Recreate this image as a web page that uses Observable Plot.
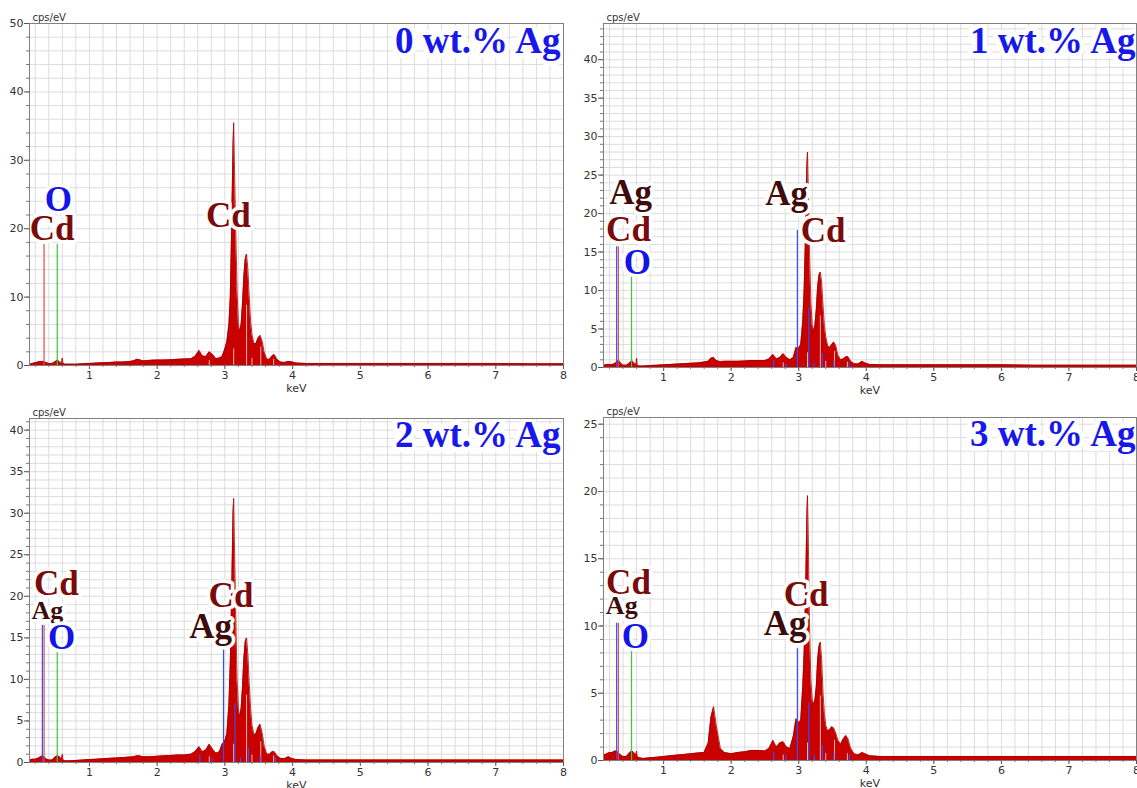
<!DOCTYPE html>
<html><head><meta charset="utf-8">
<script src="https://cdn.jsdelivr.net/npm/d3@7"></script>
<script src="https://cdn.jsdelivr.net/npm/@observablehq/plot@0.6"></script>
<style>
body{margin:0;background:#fff;}
#wrap{position:relative;width:1137px;height:788px;overflow:hidden;background:#fff;}
.panel{position:absolute;}
</style></head><body><div id="wrap"></div>
<script>
// ---------- data ----------
const energy = [0.12,0.16,0.2,0.24,0.28,0.31,0.34,0.37,0.4,0.45,0.5,0.53,0.56,0.59,0.6,0.61,0.64,0.7,0.8,0.9,
  1.0,1.1,1.2,1.3,1.4,1.5,1.6,1.66,1.7,1.74,1.78,1.84,1.9,2.0,2.1,2.2,2.3,2.4,2.5,2.56,
  2.62,2.67,2.72,2.77,2.82,2.87,2.92,2.96,3.0,3.03,3.06,3.08,3.1,3.12,3.13,3.14,3.16,3.18,3.2,3.22,
  3.24,3.26,3.28,3.3,3.32,3.34,3.36,3.38,3.4,3.43,3.46,3.49,3.52,3.55,3.58,3.62,3.66,3.7,3.73,3.77,
  3.82,3.88,3.94,3.98,4.05,4.2,4.4,4.6,4.8,5.0,5.5,6.0,6.5,7.0,7.5,8.0];

const counts0 = [0.2,0.3,0.4,0.5,0.6,0.6,0.5,0.4,0.3,0.3,0.6,0.8,0.5,0.3,1.1,0.3,0.2,0.2,0.2,0.25,
  0.3,0.35,0.4,0.45,0.5,0.5,0.6,0.7,0.9,0.85,0.7,0.7,0.75,0.8,0.8,0.85,0.9,0.95,1.0,1.3,
  2.2,1.4,1.3,2.0,1.6,1.0,1.1,1.3,2.4,3.5,6,10,20,32,35.5,30,20,11,6,5,
  6,9,13,15.5,16.3,14,10,6.5,4.5,3.2,3.2,4.0,4.4,3.6,2.0,0.9,0.9,1.4,1.6,0.9,
  0.5,0.45,0.6,0.55,0.35,0.3,0.3,0.3,0.3,0.3,0.3,0.3,0.3,0.3,0.25,0.25];

const counts1 = [0.3,0.4,0.4,0.4,0.5,0.8,0.9,0.5,0.3,0.3,0.6,0.9,0.6,0.3,1.2,0.3,0.2,0.2,0.25,0.3,
  0.35,0.4,0.45,0.5,0.55,0.6,0.7,0.8,1.2,1.3,0.9,0.75,0.8,0.8,0.8,0.85,0.9,0.9,0.9,1.1,
  1.7,1.1,1.3,1.8,1.3,1.0,1.3,2.6,2.5,3.0,6,10,17,26,28,24,15,8.5,5.5,4.8,
  5.5,7.5,10.5,12,12.4,11,8,5.5,4,2.8,2.6,3.0,3.3,2.8,1.6,1.0,1.1,1.4,1.4,0.8,
  0.5,0.45,0.8,0.6,0.4,0.35,0.35,0.35,0.35,0.35,0.35,0.35,0.3,0.3,0.3,0.3];

const counts2 = [0.3,0.4,0.4,0.5,0.7,0.8,0.6,0.4,0.3,0.3,0.7,0.8,0.7,0.4,1.0,0.3,0.2,0.2,0.25,0.3,
  0.35,0.4,0.45,0.5,0.55,0.6,0.65,0.7,0.8,0.8,0.7,0.7,0.7,0.75,0.8,0.85,0.9,0.9,1.0,1.3,
  1.9,1.3,1.5,2.2,1.6,1.1,1.3,2.2,2.6,3.5,7,12,20,30,31.8,27,18,10,6.5,5.5,
  6.5,9,12.5,14.5,15,13,9.5,6.5,4.5,3.3,3.5,4.2,4.6,3.6,2.0,1.0,1.0,1.3,1.3,0.8,
  0.5,0.45,0.7,0.5,0.35,0.3,0.3,0.3,0.3,0.3,0.3,0.3,0.3,0.3,0.3,0.3];

const counts3 = [0.4,0.5,0.6,0.6,0.7,0.7,0.5,0.4,0.3,0.3,0.6,0.7,0.6,0.4,0.7,0.3,0.2,0.15,0.2,0.25,
  0.3,0.35,0.4,0.45,0.5,0.55,0.6,1.3,3.2,4.0,2.6,0.9,0.6,0.5,0.6,0.65,0.75,0.75,0.7,0.9,
  1.5,1.0,1.3,1.4,1.0,0.9,1.8,3.1,2.8,3.0,5.5,8,12,18,19.7,17,10,6,4.5,4.2,
  4.5,5.5,7.5,8.5,8.8,7.5,5,3.5,2.6,2.2,2.3,2.5,2.4,2.0,1.5,1.2,1.6,1.85,1.6,0.9,
  0.5,0.4,0.6,0.5,0.35,0.3,0.3,0.3,0.3,0.3,0.3,0.3,0.3,0.3,0.3,0.3];

const panelTitles = ["0 wt.% Ag", "1 wt.% Ag", "2 wt.% Ag", "3 wt.% Ag"];
const yMaxes = [50, 44.7, 41.4, 25.5];
const yTicks0 = [0, 10, 20, 30, 40, 50];
const yTicks1 = [0, 5, 10, 15, 20, 25, 30, 35, 40];
const yTicks2 = [0, 5, 10, 15, 20, 25, 30, 35, 40];
const yTicks3 = [0, 5, 10, 15, 20, 25];
const xTicks = [1, 2, 3, 4, 5, 6, 7, 8];

// element marker lines (keV, top in cps/eV)
const cdLineEnergy = [0.33, 2.77, 3.13, 3.32, 3.40, 3.53, 3.72];
const cdLineTop0 = [17.7, 0.7, 2.4, 8.8, 1.0, 2.7, 0.9];
const cdLineTop1 = [15.7, 0.6, 1.9, 6.7, 0.8, 2.1, 0.7];
const cdLineTop2 = [16.5, 0.7, 2.2, 8.1, 0.9, 2.5, 0.8];
const cdLineTop3 = [10.2, 0.4, 1.3, 4.8, 0.5, 1.5, 0.5];
const agLineEnergy = [0.305, 2.63, 2.81, 2.98, 3.15, 3.23, 3.35, 3.52, 3.75];
const agLineTop1 = [15.7, 0.9, 0.5, 17.8, 7.7, 0.6, 1.8, 0.9, 0.6];
const agLineTop2 = [16.5, 0.9, 0.5, 13.6, 7.1, 0.6, 1.7, 0.8, 0.6];
const agLineTop3 = [10.2, 0.6, 0.4, 8.3, 4.3, 0.4, 1.1, 0.5, 0.4];
const oLineEnergy = 0.525;
const oLineTop = [17.7, 12.0, 13.3, 8.2];

// peak labels
const labelText0 = ["O", "Cd", "Cd"];
const labelX0 = [0.54, 0.45, 3.05];
const labelY0 = [22.6, 18.3, 20.2];
const labelText1 = ["Ag", "Cd", "O", "Ag", "Cd"];
const labelX1 = [0.51, 0.48, 0.61, 2.82, 3.36];
const labelY1 = [21.2, 16.4, 12.2, 21.1, 16.3];
const labelText2 = ["Cd", "Ag", "O", "Cd", "Ag"];
const labelX2 = [0.51, 0.38, 0.59, 3.09, 2.79];
const labelY2 = [20.2, 17.3, 13.7, 18.7, 15.0];
const labelText3 = ["Cd", "Ag", "O", "Cd", "Ag"];
const labelX3 = [0.48, 0.38, 0.58, 3.11, 2.80];
const labelY3 = [12.4, 10.9, 8.4, 11.5, 9.3];
const smallAgLabel = [false, false, true, true]; // left "Ag" is smaller in bottom panels

// ---------- styling / layout ----------
const layouts = [
  {left: 0,   top: 0,   width: 570, height: 395, mL: 29, mR: 7, mT: 23, mB: 30, x0: 0.115, tdx: -3, tdy: 29},
  {left: 570, top: 0,   width: 567, height: 395, mL: 33, mR: 1, mT: 23, mB: 28, x0: 0.11,  tdx: -1, tdy: 29},
  {left: 0,   top: 395, width: 570, height: 393, mL: 29, mR: 7, mT: 23, mB: 26, x0: 0.115, tdx: -3, tdy: 28},
  {left: 570, top: 395, width: 567, height: 393, mL: 33, mR: 1, mT: 22, mB: 28, x0: 0.11,  tdx: -1, tdy: 28}
];
const COL = {fill: "#c80000", edge: "#a80000", cdLow: "#e84848", cdIn: "#f7b4b4", ag: "#3a4cf2", o: "#38c838",
  cdLabel: "#7a0b0b", agLabel: "#3f0c0c", oLabel: "#1414e6", title: "#1818ea"};

const countsAll = [counts0, counts1, counts2, counts3];
const cdTops = [cdLineTop0, cdLineTop1, cdLineTop2, cdLineTop3];
const agTops = [null, agLineTop1, agLineTop2, agLineTop3];
const yTicksAll = [yTicks0, yTicks1, yTicks2, yTicks3];
const yGridStep = [2, 1, 1, 1];
const labelsAll = [[labelText0, labelX0, labelY0], [labelText1, labelX1, labelY1], [labelText2, labelX2, labelY2], [labelText3, labelX3, labelY3]];

const wrap = document.getElementById("wrap");

for (let i = 0; i < 4; i++) {
  const L = layouts[i];
  const spec = energy.map((e, k) => ({e, c: countsAll[i][k]}));
  const cdIn = cdLineEnergy.map((e, k) => ({e, h: cdTops[i][k]})).slice(1);
  const cdLow = [{e: cdLineEnergy[0], h: cdTops[i][0]}];
  const ag = agTops[i] ? agLineEnergy.map((e, k) => ({e, h: agTops[i][k]})) : [];
  const oLine = [{e: oLineEnergy, h: oLineTop[i]}];
  const [lt, lx, ly] = labelsAll[i];
  const labels = lt.map((t, k) => ({
    t, x: lx[k], y: ly[k],
    c: t === "Cd" ? COL.cdLabel : t === "Ag" ? COL.agLabel : COL.oLabel,
    s: (t === "Ag" && smallAgLabel[i] && lx[k] < 1) ? 26 : 35
  }));
  const yMax = yMaxes[i];
  const step = yGridStep[i];
  const yGrid = d3.range(1, Math.floor(yMax / step) + 1).map(k => k * step).filter(v => v < yMax);
  const xGrid = d3.range(1, 40).map(k => k / 5);

  const chart = Plot.plot({
    width: L.width, height: L.height,
    marginLeft: L.mL, marginRight: L.mR, marginTop: L.mT, marginBottom: L.mB,
    x: {domain: [L.x0, 8]},
    y: {domain: [0, yMax]},
    style: {fontFamily: "DejaVu Sans", fontSize: "11px", color: "#333", background: "white"},
    marks: [
      Plot.gridX(xGrid, {stroke: "#dcdcdc", strokeOpacity: 1}),
      Plot.gridY(yGrid, {stroke: "#dcdcdc", strokeOpacity: 1}),
      Plot.areaY(spec, {x: "e", y: "c", fill: COL.fill, clip: true}),
      Plot.lineY(spec, {x: "e", y: "c", stroke: COL.edge, strokeWidth: 0.8, clip: true}),
      Plot.ruleX(cdIn, {x: "e", y1: 0, y2: "h", stroke: COL.cdIn, strokeWidth: 1}),
      Plot.ruleX(ag.slice(1), {x: "e", y1: 0, y2: "h", stroke: COL.ag, strokeWidth: 1.2}),
      Plot.ruleX(ag.slice(0, 1), {x: "e", y1: 0, y2: "h", stroke: COL.ag, strokeWidth: 1.2}),
      Plot.ruleX(cdLow, {x: "e", y1: 0, y2: "h", stroke: COL.cdLow, strokeWidth: 1.2}),
      Plot.ruleX(oLine, {x: "e", y1: 0, y2: "h", stroke: COL.o, strokeWidth: 1.2}),
      Plot.text(labels, {x: "x", y: "y", text: "t", fill: d => d.c, fontSize: d => d.s,
        fontWeight: "bold", fontFamily: "Liberation Serif", textAnchor: "middle", lineAnchor: "bottom",
        stroke: "white", strokeWidth: 7, paintOrder: "stroke"}),
      Plot.text([panelTitles[i]], {frameAnchor: "top-right", textAnchor: "end", lineAnchor: "bottom",
        dx: L.tdx, dy: L.tdy, fontSize: 37, fontWeight: "bold", fontFamily: "Liberation Serif",
        fill: COL.title, stroke: "white", strokeWidth: 10, paintOrder: "stroke"}),
      Plot.frame({stroke: "#808080"}),
      Plot.axisX(xTicks, {tickSize: 4, tickPadding: 2, label: null, stroke: "#555", fill: "#333"}),
      Plot.axisX(xGrid, {tickSize: 2, tickFormat: () => "", label: null, stroke: "#777"}),
      Plot.axisY(yTicksAll[i], {tickSize: 5, tickPadding: 1, label: null, stroke: "#555", fill: "#333"}),
      Plot.axisY(yGrid, {tickSize: 3, tickFormat: () => "", label: null, stroke: "#777"}),
      Plot.text(["cps/eV"], {frameAnchor: "top-left", textAnchor: "start", lineAnchor: "bottom", dx: 3, dy: -3, fontSize: 10, fill: "#333"}),
      Plot.text(["keV"], {frameAnchor: "bottom", textAnchor: "middle", lineAnchor: "bottom", dy: 26, fontSize: 11, fill: "#333"})
    ]
  });
  const div = document.createElement("div");
  div.className = "panel";
  div.style.left = L.left + "px";
  div.style.top = L.top + "px";
  div.appendChild(chart);
  wrap.appendChild(div);
}
</script>
</body></html>
